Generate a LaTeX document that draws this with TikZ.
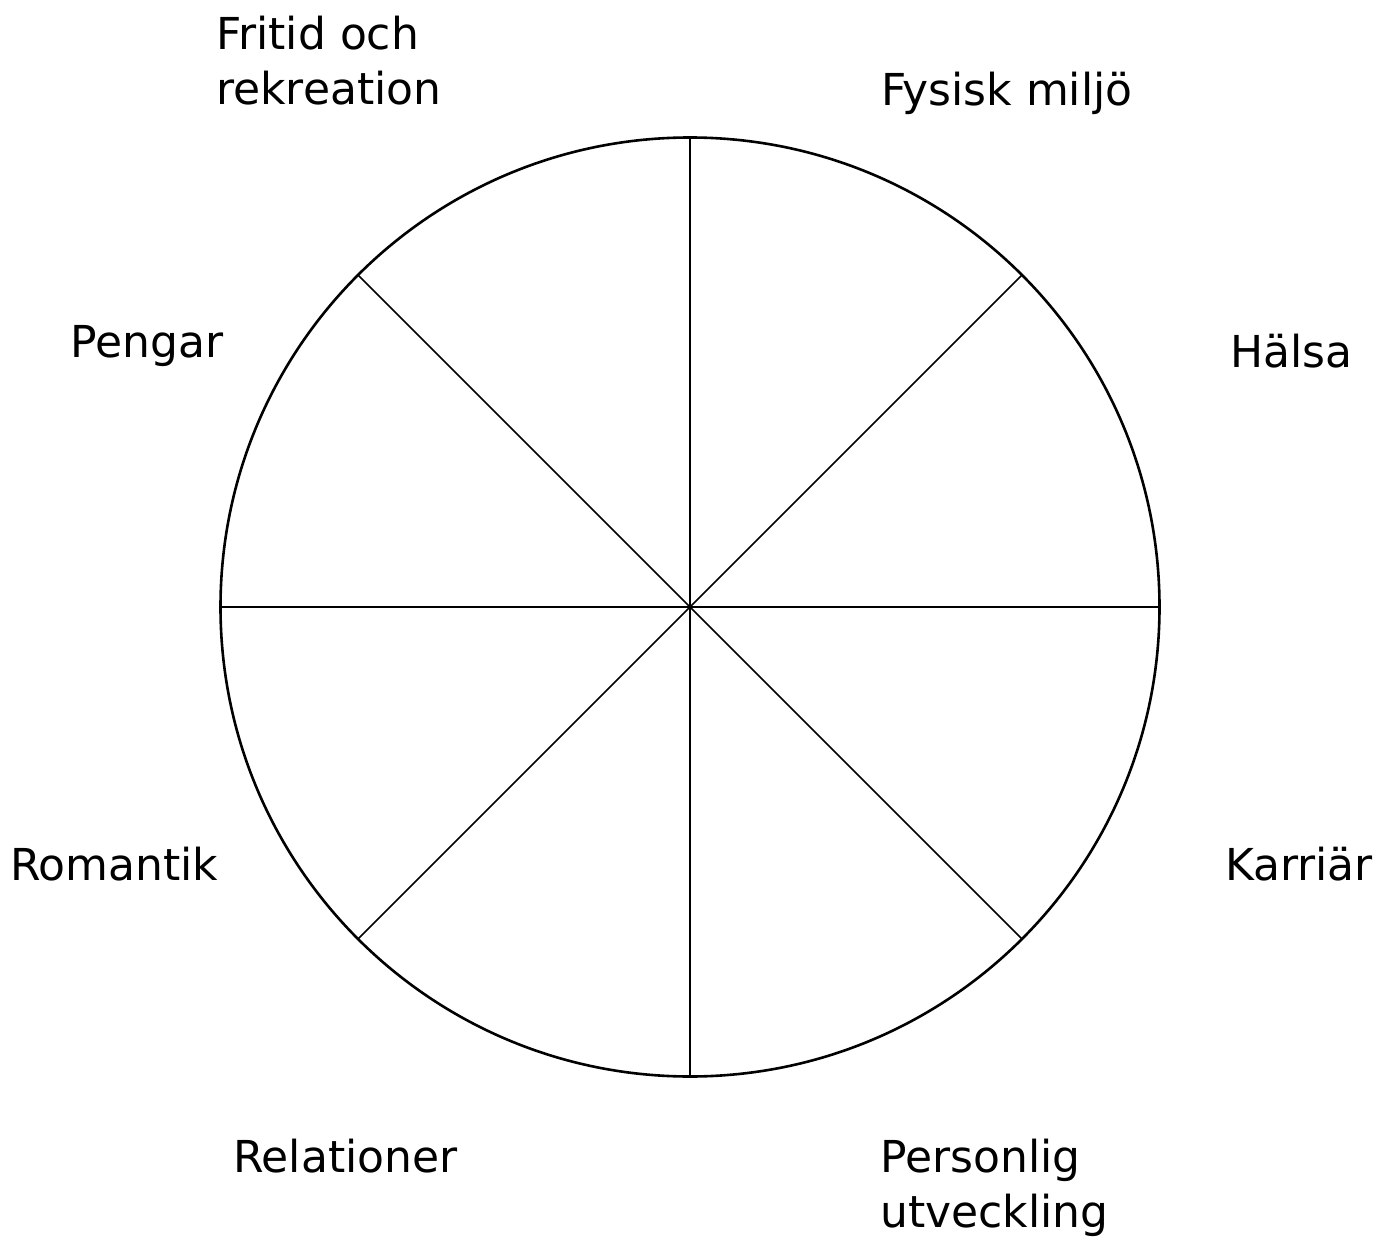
\documentclass[tikz,border=0pt]{standalone}
\usepackage{fontspec}
\setmainfont{DejaVu Sans}

\begin{document}
\begin{tikzpicture}[x=1pt,y=-1pt,
  label/.style={anchor=base west,inner sep=0pt,align=left,font=\fontsize{44}{55}\selectfont}]
\useasboundingbox (0,0) rectangle (1390,1241);
\coordinate (c) at (690,607);
\foreach \a in {0,45,...,315}
  \draw[line width=1.6pt] (c) -- ++(\a:469.5) coordinate (p\a);
\draw[line width=2.6pt] (c) circle[radius=469.5];
% last line of each label sits on the given baseline
\node[label] (fritid) at (216,105) {Fritid och\\rekreation};
\node[label] (fysisk) at (881,106) {Fysisk miljö};
\node[label] (halsa) at (1230,367) {Hälsa};
\node[label] (pengar) at (70,358) {Pengar};
\node[label] (romantik) at (10,880) {Romantik};
\node[label] (karriar) at (1225,880) {Karriär};
\node[label] (relationer) at (233,1172) {Relationer};
\node[label] (personlig) at (880,1227) {Personlig\\utveckling};
\end{tikzpicture}
\end{document}
